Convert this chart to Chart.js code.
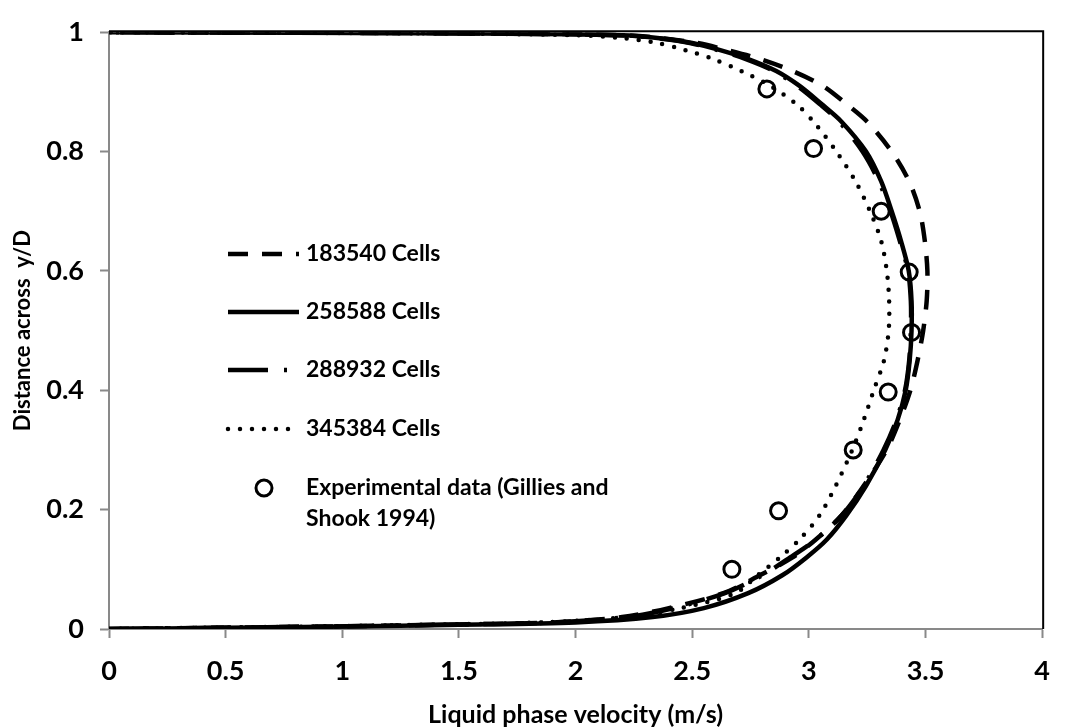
<!DOCTYPE html>
<html>
<head>
<meta charset="utf-8">
<script src="https://cdn.jsdelivr.net/npm/chart.js@4.4.0/dist/chart.umd.min.js"></script>
<style>
  body { margin: 0; background: #fff; }
  #wrap { width: 1067px; height: 727px; }
</style>
</head>
<body>
<div id="wrap"><canvas id="perfilChart" width="1067" height="727"></canvas></div>
<script>
// y/D positions used by the four mesh profiles
const yMesh = [0, 0.002, 0.004, 0.007, 0.011, 0.02, 0.035, 0.06, 0.09, 0.12, 0.15, 0.19, 0.24, 0.3, 0.35,
               0.4, 0.45, 0.5, 0.55, 0.6, 0.65, 0.7, 0.75, 0.8, 0.85, 0.88, 0.91, 0.935, 0.955, 0.97,
               0.982, 0.99, 0.995, 0.998, 1];

// Liquid velocity (m/s) for each mesh
const vel183540 = [0, 0.45, 0.9, 1.4, 1.9, 2.2, 2.4, 2.634, 2.79, 2.93, 3.03, 3.14, 3.235, 3.333, 3.389,
                   3.435, 3.466, 3.49, 3.505, 3.508, 3.497, 3.475, 3.43, 3.355, 3.25, 3.16, 3.06, 2.93, 2.79, 2.65,
                   2.52, 2.37, 2.2, 1.6, 0];
const vel258588 = [0, 0.5, 1.0, 1.5, 2.0, 2.33, 2.55, 2.74, 2.886, 2.99, 3.077, 3.16, 3.245, 3.327, 3.38,
                   3.415, 3.432, 3.44, 3.44, 3.428, 3.395, 3.355, 3.31, 3.245, 3.14, 3.053, 2.96, 2.86, 2.74, 2.62,
                   2.5, 2.36, 2.2, 1.6, 0];
const vel288932 = [0, 0.45, 0.9, 1.4, 1.9, 2.22, 2.42, 2.64, 2.8, 2.92, 3.03, 3.14, 3.235, 3.32, 3.375,
                   3.412, 3.43, 3.437, 3.437, 3.425, 3.39, 3.35, 3.3, 3.23, 3.13, 3.045, 2.95, 2.85, 2.73, 2.61,
                   2.49, 2.35, 2.18, 1.55, 0];
const vel345384 = [0, 0.4, 0.85, 1.35, 1.85, 2.22, 2.45, 2.685, 2.78, 2.876, 2.96, 3.045, 3.115, 3.186, 3.235,
                   3.278, 3.322, 3.342, 3.344, 3.334, 3.31, 3.262, 3.2, 3.118, 3.02, 2.945, 2.835, 2.71, 2.59, 2.47,
                   2.35, 2.2, 2.0, 1.4, 0];

// Experimental data (Gillies and Shook 1994)
const expVel = [2.67, 2.87, 3.19, 3.34, 3.44, 3.43, 3.31, 3.02, 2.82];
const expY = [0.1, 0.198, 0.3, 0.397, 0.497, 0.598, 0.7, 0.805, 0.905];

const fonte = 'Lato, Carlito, Calibri, sans-serif';

function pontos(xs, ys) {
    return xs.map((x, i) => ({ x: x, y: ys[i] }));
}

// tick text like "0", "0.5", "1"
function rotulo(v) {
    return Number(v.toFixed(1)).toString();
}

// black border on the top and right of the plot area
const moldura = {
    id: 'moldura',
    beforeDatasetsDraw(chart) {
        const { ctx, chartArea: a } = chart;
        ctx.save();
        ctx.strokeStyle = '#000';
        ctx.lineWidth = 2;
        ctx.beginPath();
        ctx.moveTo(a.left, a.top - 1);
        ctx.lineTo(a.right + 1, a.top - 1);
        ctx.lineTo(a.right + 1, a.bottom);
        ctx.stroke();
        ctx.restore();
    }
};

// legend drawn inside the plot, like the original
const legendaInterna = {
    id: 'legendaInterna',
    afterDraw(chart) {
        const ctx = chart.ctx;
        const linhasY = [254, 312, 370, 429, 488];
        ctx.save();
        ctx.font = 'bold 23px ' + fonte;
        ctx.fillStyle = '#000';
        ctx.textBaseline = 'middle';
        chart.data.datasets.forEach((ds, i) => {
            const y = linhasY[i];
            ctx.strokeStyle = '#000';
            if (ds.showLine) {
                ctx.lineWidth = ds.borderWidth;
                ctx.lineCap = ds.borderCapStyle || 'butt';
                ctx.setLineDash(ds.borderDash || []);
                ctx.beginPath();
                ctx.moveTo(228, y);
                ctx.lineTo(299, y);
                ctx.stroke();
                ctx.setLineDash([]);
                ctx.fillText(ds.label, 306, y);
            } else {
                ctx.lineWidth = ds.borderWidth;
                ctx.beginPath();
                ctx.arc(264, y, ds.pointRadius, 0, Math.PI * 2);
                ctx.stroke();
                ctx.fillText('Experimental data (Gillies and', 306, y);
                ctx.fillText('Shook 1994)', 306, y + 31);
            }
        });
        ctx.restore();
    }
};

const estiloLinha = {
    showLine: true,
    pointRadius: 0,
    borderColor: '#000',
    borderWidth: 4.5,
    tension: 0.3,
    fill: false
};

const ctx = document.getElementById('perfilChart').getContext('2d');
const perfilChart = new Chart(ctx, {
    type: 'scatter',
    data: {
        datasets: [
            Object.assign({ label: '183540 Cells', data: pontos(vel183540, yMesh), borderDash: [20, 14], order: 4 }, estiloLinha),
            Object.assign({ label: '258588 Cells', data: pontos(vel258588, yMesh), order: 3 }, estiloLinha),
            Object.assign({ label: '288932 Cells', data: pontos(vel288932, yMesh), borderDash: [40, 16, 3, 16], order: 2 }, estiloLinha),
            Object.assign({ label: '345384 Cells', data: pontos(vel345384, yMesh), borderDash: [0, 12], borderCapStyle: 'round', order: 1 }, estiloLinha),
            {
                label: 'Experimental data (Gillies and Shook 1994)',
                data: pontos(expVel, expY),
                showLine: false,
                pointRadius: 8,
                pointHoverRadius: 8,
                borderWidth: 3,
                borderColor: '#000',
                backgroundColor: 'rgba(0,0,0,0)',
                order: 0
            }
        ]
    },
    options: {
        responsive: false,
        animation: false,
        devicePixelRatio: 1,
        layout: { padding: { left: 0, right: 11, top: 24, bottom: 0 } },
        plugins: {
            legend: { display: false },
            tooltip: { enabled: false }
        },
        scales: {
            x: {
                type: 'linear',
                min: 0,
                max: 4,
                ticks: { stepSize: 0.5, callback: rotulo, color: '#000', font: { family: fonte, size: 27, weight: 'bold' }, padding: 17 },
                grid: { drawOnChartArea: false, drawTicks: true, tickLength: 9, tickColor: '#898989', tickWidth: 2 },
                border: { color: '#898989', width: 2 },
                title: {
                    display: true,
                    text: 'Liquid phase velocity (m/s)',
                    color: '#000',
                    font: { family: fonte, size: 25, weight: 'bold' },
                    padding: { top: 0, bottom: -3 }
                },
                afterFit: s => { s.height = 98; }
            },
            y: {
                type: 'linear',
                min: 0,
                max: 1,
                ticks: { stepSize: 0.2, callback: rotulo, color: '#000', font: { family: fonte, size: 27, weight: 'bold' }, padding: 16 },
                grid: { drawOnChartArea: false, drawTicks: true, tickLength: 9, tickColor: '#898989', tickWidth: 2 },
                border: { color: '#898989', width: 2 },
                title: {
                    display: true,
                    text: 'Distance across  y/D',
                    color: '#000',
                    font: { family: fonte, size: 22, weight: 'bold' },
                    padding: { top: 10, bottom: 0 }
                },
                afterFit: s => { s.width = 109; }
            }
        }
    },
    plugins: [moldura, legendaInterna]
});
</script>
</body>
</html>
